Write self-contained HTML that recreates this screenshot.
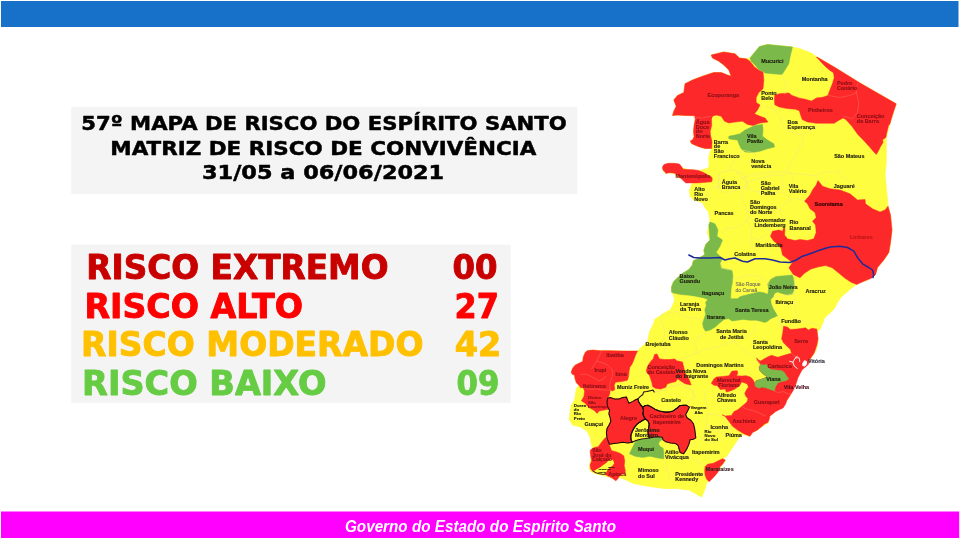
<!DOCTYPE html>
<html lang="pt"><head><meta charset="utf-8"><title>57º Mapa de Risco do Espírito Santo</title>
<style>html,body{margin:0;padding:0;background:#fff;overflow:hidden}svg{display:block}</style></head>
<body><svg width="960" height="540" viewBox="0 0 960 540">
<rect x="0" y="0" width="960" height="540" fill="#ffffff"/>
<rect x="1" y="1" width="957.5" height="26" fill="#1871c8"/>
<rect x="1" y="511.5" width="958.2" height="26.5" fill="#ff00ff"/>
<rect x="71.3" y="106.8" width="506" height="87.2" fill="#f4f4f4"/>
<rect x="71.3" y="244.7" width="439.4" height="158.2" fill="#f4f4f4"/>
<text x="81.3" y="130.0" font-family='"DejaVu Sans", "Liberation Sans", sans-serif' font-size="20.2" font-weight="bold" font-style="normal" fill="#000" stroke="#000" stroke-width="0.5" stroke-linejoin="round" textLength="485.5" lengthAdjust="spacingAndGlyphs">57º MAPA DE RISCO DO ESPÍRITO SANTO</text>
<text x="110.3" y="154.6" font-family='"DejaVu Sans", "Liberation Sans", sans-serif' font-size="20.2" font-weight="bold" font-style="normal" fill="#000" stroke="#000" stroke-width="0.5" stroke-linejoin="round" textLength="426.0" lengthAdjust="spacingAndGlyphs">MATRIZ DE RISCO DE CONVIVÊNCIA</text>
<text x="202.0" y="179.2" font-family='"DejaVu Sans", "Liberation Sans", sans-serif' font-size="20.2" font-weight="bold" font-style="normal" fill="#000" stroke="#000" stroke-width="0.5" stroke-linejoin="round" textLength="242.2" lengthAdjust="spacingAndGlyphs">31/05 a 06/06/2021</text>
<text x="86.3" y="279.4" font-family='"DejaVu Sans", "Liberation Sans", sans-serif' font-size="32.8" font-weight="bold" font-style="normal" fill="#c80000" stroke="#c80000" stroke-width="0.9" stroke-linejoin="round" textLength="302.2" lengthAdjust="spacingAndGlyphs">RISCO EXTREMO</text>
<text x="452.5" y="279.4" font-family='"DejaVu Sans", "Liberation Sans", sans-serif' font-size="32.8" font-weight="bold" font-style="normal" fill="#c80000" stroke="#c80000" stroke-width="0.9" stroke-linejoin="round" textLength="45.0" lengthAdjust="spacingAndGlyphs">00</text>
<text x="84.4" y="317.9" font-family='"DejaVu Sans", "Liberation Sans", sans-serif' font-size="32.8" font-weight="bold" font-style="normal" fill="#ff0000" stroke="#ff0000" stroke-width="0.9" stroke-linejoin="round" textLength="218.6" lengthAdjust="spacingAndGlyphs">RISCO ALTO</text>
<text x="454.5" y="317.9" font-family='"DejaVu Sans", "Liberation Sans", sans-serif' font-size="32.8" font-weight="bold" font-style="normal" fill="#ff0000" stroke="#ff0000" stroke-width="0.9" stroke-linejoin="round" textLength="44.4" lengthAdjust="spacingAndGlyphs">27</text>
<text x="81.1" y="355.8" font-family='"DejaVu Sans", "Liberation Sans", sans-serif' font-size="32.8" font-weight="bold" font-style="normal" fill="#ffc000" stroke="#ffc000" stroke-width="0.9" stroke-linejoin="round" textLength="342.4" lengthAdjust="spacingAndGlyphs">RISCO MODERADO</text>
<text x="454.7" y="355.8" font-family='"DejaVu Sans", "Liberation Sans", sans-serif' font-size="32.8" font-weight="bold" font-style="normal" fill="#ffc000" stroke="#ffc000" stroke-width="0.9" stroke-linejoin="round" textLength="46.6" lengthAdjust="spacingAndGlyphs">42</text>
<text x="82.1" y="395.2" font-family='"DejaVu Sans", "Liberation Sans", sans-serif' font-size="32.8" font-weight="bold" font-style="normal" fill="#66cc44" stroke="#66cc44" stroke-width="0.9" stroke-linejoin="round" textLength="244.4" lengthAdjust="spacingAndGlyphs">RISCO BAIXO</text>
<text x="456.5" y="395.2" font-family='"DejaVu Sans", "Liberation Sans", sans-serif' font-size="32.8" font-weight="bold" font-style="normal" fill="#66cc44" stroke="#66cc44" stroke-width="0.9" stroke-linejoin="round" textLength="42.8" lengthAdjust="spacingAndGlyphs">09</text>
<text x="345.0" y="531.5" font-family='"Liberation Sans", sans-serif' font-size="16.5" font-weight="bold" font-style="italic" fill="#ffffff" textLength="271.0" lengthAdjust="spacingAndGlyphs">Governo do Estado do Espírito Santo</text>
<g id="mapa">
<polygon points="711.2,55.0 723.8,52.0 735.0,53.8 739.5,58.0 746.2,58.8 750.0,58.0 754.5,52.5 759.5,46.5 767.5,44.5 777.5,45.5 792.5,47.0 800.0,48.8 810.0,52.5 817.0,57.0 835.0,67.5 860.0,83.0 880.0,94.5 896.2,103.8 892.5,115.0 889.5,125.0 886.2,137.5 886.2,150.0 886.2,162.5 885.0,175.0 886.2,187.5 887.5,200.0 888.0,206.2 890.5,215.0 892.0,230.0 890.5,242.5 888.8,252.5 883.8,260.0 877.5,267.5 875.0,275.0 867.5,280.0 860.0,282.5 855.6,285.1 850.5,288.9 845.5,293.3 840.5,297.7 837.3,302.7 834.8,307.8 831.6,311.6 827.9,314.7 824.1,318.5 823.5,321.6 821.6,325.4 820.3,329.2 817.8,330.5 817.5,335.0 818.0,342.5 816.2,350.0 812.5,356.2 808.8,361.2 806.2,365.0 802.5,368.8 800.0,372.5 795.0,380.0 791.2,387.5 792.5,390.0 788.8,397.5 783.8,405.0 777.5,410.0 771.2,415.0 767.5,417.5 768.8,422.5 762.5,426.2 757.5,430.0 752.5,432.5 750.0,436.2 743.3,434.4 739.2,437.5 735.0,443.8 730.8,450.0 726.7,456.2 722.5,459.0 725.6,460.4 722.5,464.6 718.3,470.8 713.1,477.1 710.0,480.2 706.9,482.3 704.8,489.6 701.7,496.9 697.5,494.8 689.2,490.0 676.7,488.5 664.2,488.5 653.8,487.1 643.3,485.4 632.9,483.3 626.7,480.2 618.3,477.1 615.2,480.2 610.0,477.1 604.8,476.0 601.7,475.0 596.5,474.0 591.2,471.9 589.2,468.8 590.2,462.5 591.2,457.3 590.2,452.1 592.3,447.9 591.2,443.8 590.2,437.5 587.1,431.2 580.8,427.1 572.5,425.0 569.4,418.8 570.4,410.4 571.5,404.2 573.2,403.0 575.1,397.9 575.7,392.9 576.4,389.1 578.9,385.3 576.4,382.8 575.1,379.0 574.5,375.3 572.0,374.0 571.3,372.1 572.6,368.3 575.1,365.2 578.9,363.3 582.7,361.4 583.3,357.0 585.2,352.6 587.1,350.7 592.7,350.1 600.3,350.7 610.4,350.7 623.0,351.1 637.5,351.1 640.2,348.3 643.3,345.2 647.5,342.1 648.5,336.9 649.6,331.7 651.7,327.5 653.8,323.3 654.8,319.2 660.0,316.0 664.2,312.9 670.4,309.8 672.5,305.6 674.6,300.4 673.5,295.2 671.5,292.1 671.5,286.9 673.5,281.7 677.7,277.5 682.9,273.3 689.2,269.2 692.3,265.0 693.3,260.8 699.6,257.7 704.8,254.6 703.8,250.4 705.8,244.2 710.0,240.0 707.5,232.5 708.8,225.0 710.0,221.2 708.8,212.5 705.0,207.5 702.5,202.5 693.8,200.0 690.0,196.2 689.5,190.0 692.5,182.5 685.0,179.5 677.5,177.5 675.0,173.8 670.0,173.0 664.5,172.5 662.5,169.5 663.0,166.2 667.5,163.8 675.0,163.8 680.0,165.5 682.5,168.0 690.0,170.0 700.0,170.5 708.6,168.0 709.2,163.0 708.6,157.9 709.8,152.9 711.7,148.5 705.4,148.5 700.4,147.2 695.3,145.3 691.6,143.5 690.3,140.9 692.8,139.7 694.1,136.5 693.5,131.5 694.1,125.2 695.3,118.9 694.7,115.7 685.0,115.5 677.5,115.0 672.5,115.5 673.8,111.2 676.2,106.2 673.8,100.0 677.5,95.5 683.8,92.5 685.0,83.8 692.5,80.0 702.5,76.2 713.8,72.5 721.2,72.5 727.5,75.0 731.2,76.2 728.8,70.0 723.8,65.0 718.8,61.2 712.5,58.0" fill="#fffd40" stroke="#fffd40" stroke-width="0.8" stroke-linejoin="round" />
<polygon points="817.0,57.0 835.0,67.5 860.0,83.0 880.0,94.5 896.2,103.8 892.5,115.0 889.5,125.0 888.9,124.1 886.7,133.0 885.9,137.4 882.7,139.6 883.0,142.6 880.7,146.3 878.5,150.7 876.3,154.4 874.1,152.2 869.6,147.0 863.7,140.4 857.8,134.4 851.9,126.3 845.9,119.6 843.0,118.1 838.5,120.4 834.1,123.3 825.2,123.3 816.3,123.3 807.4,121.9 802.2,119.6 800.7,115.2 799.3,110.7 795.6,109.3 786.7,108.5 779.3,107.0 774.8,104.8 774.4,99.6 774.8,95.2 779.3,93.7 788.8,92.9 792.0,95.4 798.9,97.9 805.2,99.2 811.5,101.1 816.5,97.9 822.8,97.3 827.9,95.4 829.7,90.4 832.3,84.1 834.2,77.8 833.5,72.7 829.7,70.2 825.3,66.4 821.6,62.7 818.4,58.9 816.5,57.6" fill="#fd2829" stroke="#fd2829" stroke-width="0.5" stroke-linejoin="round" />
<polygon points="711.2,55.0 723.8,52.0 735.0,53.8 739.5,58.0 746.2,58.8 750.0,61.2 754.5,67.0 758.8,70.0 763.0,72.0 763.8,80.0 763.0,88.8 758.8,92.5 756.2,97.5 756.2,102.5 760.0,105.0 757.5,110.0 754.5,113.8 760.0,116.2 765.0,118.0 768.0,122.0 760.0,123.0 753.0,125.5 747.5,124.5 742.5,121.2 735.0,122.0 728.8,123.0 724.5,121.2 721.2,116.2 716.2,115.0 712.5,116.2 711.5,118.9 711.7,125.2 710.2,131.5 710.5,135.3 712.0,141.6 711.7,148.5 705.4,148.5 700.4,147.2 695.3,145.3 691.6,143.5 690.3,140.9 692.8,139.7 694.1,136.5 693.5,131.5 694.1,125.2 695.3,118.9 694.7,115.7 685.0,115.5 677.5,115.0 672.5,115.5 673.8,111.2 676.2,106.2 673.8,100.0 677.5,95.5 683.8,92.5 685.0,83.8 692.5,80.0 702.5,76.2 713.8,72.5 721.2,72.5 727.5,75.0 731.2,76.2 728.8,70.0 723.8,65.0 718.8,61.2 712.5,58.0" fill="#fd2829" stroke="#fd2829" stroke-width="0.5" stroke-linejoin="round" />
<polygon points="662.9,165.8 664.6,164.2 668.3,163.3 673.3,163.3 678.3,163.8 680.0,164.6 681.7,167.1 683.3,169.2 687.5,169.6 693.3,169.8 698.3,170.4 701.7,171.7 705.0,173.3 708.3,175.4 711.7,177.1 712.3,179.2 711.7,181.7 708.3,182.1 703.3,182.5 696.7,182.9 690.0,182.9 685.8,182.9 683.3,180.8 680.8,178.3 678.3,175.8 675.8,173.8 673.3,172.9 670.0,172.7 667.5,172.9 666.2,173.8 665.0,172.1 663.3,170.4 662.5,167.9" fill="#fd2829" stroke="#fd2829" stroke-width="0.5" stroke-linejoin="round" />
<polygon points="818.0,180.5 822.5,186.2 830.0,188.8 840.0,190.0 850.0,193.8 857.5,200.0 865.0,199.5 865.5,203.8 872.5,208.8 880.0,212.0 885.0,210.0 888.0,206.2 890.5,215.0 892.0,230.0 890.5,242.5 888.8,252.5 883.8,260.0 877.5,267.5 875.6,274.4 872.2,277.8 864.4,281.1 856.7,284.4 851.1,282.2 844.4,277.8 837.8,272.2 832.2,267.8 825.6,265.6 818.9,266.7 811.1,268.9 804.4,273.3 800.0,277.8 793.3,274.4 788.9,267.8 792.5,262.5 787.5,258.8 782.5,255.0 781.2,248.8 777.5,243.8 773.8,241.2 770.5,236.2 772.5,231.2 778.8,230.0 782.5,231.2 783.8,227.5 785.0,228.8 784.5,235.0 787.5,238.8 795.0,240.5 800.0,239.5 807.5,240.5 813.8,238.8 816.2,232.5 815.5,225.0 812.5,221.2 816.2,217.5 815.0,212.5 810.0,208.8 807.5,203.8 804.5,201.2 810.0,195.0 812.5,190.0 816.2,185.0" fill="#fd2829" stroke="#fd2829" stroke-width="0.5" stroke-linejoin="round" />
<polygon points="783.5,326.3 787.2,326.9 790.4,329.4 796.7,329.1 803.0,328.2 805.5,327.8 808.6,330.1 811.8,328.2 816.8,329.1 818.1,338.9 816.8,345.2 814.3,352.7 811.8,356.5 809.3,360.3 808.6,364.1 806.1,366.6 803.6,368.5 801.7,370.4 799.8,374.2 797.9,377.9 796.7,381.7 795.4,385.5 794.2,388.0 793.8,389.6 791.3,393.4 789.4,396.5 786.9,400.3 785.6,404.1 783.1,407.9 779.3,409.7 775.6,411.6 772.4,414.2 769.9,416.0 769.3,419.2 768.0,422.3 764.2,424.2 761.7,426.8 759.8,428.0 757.5,430.0 752.5,432.5 750.0,436.2 743.8,433.8 737.5,430.0 732.5,426.2 728.8,421.2 725.0,416.2 722.0,414.8 725.2,416.0 731.5,415.4 734.0,411.6 737.8,409.7 741.6,406.6 744.7,404.1 747.2,401.6 747.9,398.4 746.0,396.5 744.7,393.4 746.6,389.6 748.5,387.1 747.2,383.9 744.1,382.7 741.6,382.0 740.3,384.6 737.8,387.1 734.0,389.6 730.2,390.9 726.4,392.1 725.2,389.0 720.2,389.6 717.6,385.8 713.9,385.2 711.3,383.3 713.9,378.9 716.4,377.0 722.7,376.4 729.0,375.7 730.9,372.6 732.1,371.1 737.2,370.7 737.8,373.2 736.5,375.7 741.6,376.1 746.0,375.7 750.4,377.0 752.9,379.5 754.8,383.3 756.0,380.8 760.5,379.5 764.2,378.3 766.8,376.4 763.0,373.9 759.8,370.7 759.2,367.6 760.5,364.4 758.9,362.8 757.0,360.3 756.4,357.8 758.9,360.3 760.8,360.9 763.9,359.0 767.1,357.2 771.5,355.3 777.8,357.2 784.1,355.3 790.4,353.4 791.6,353.4 790.4,349.6 787.2,346.4 783.5,342.7 781.6,338.9 782.8,332.6" fill="#fd2829" stroke="#fd2829" stroke-width="0.5" stroke-linejoin="round" />
<polygon points="646.3,370.2 648.2,365.2 650.7,361.4 653.2,358.9 654.5,354.5 657.0,353.9 658.2,356.4 659.5,358.9 664.5,359.5 669.6,359.5 674.6,358.9 677.1,360.8 682.5,362.0 683.8,367.5 685.0,372.5 688.8,378.8 691.2,385.0 685.0,383.8 677.5,378.8 675.9,381.6 670.8,382.8 667.1,384.1 665.8,387.2 660.8,389.1 655.7,388.5 652.6,386.6 651.9,382.8 650.7,379.0 649.4,375.3 646.9,372.7" fill="#fd2829" stroke="#fd2829" stroke-width="0.5" stroke-linejoin="round" />
<polygon points="585.2,352.6 587.1,350.7 592.7,350.1 600.3,350.7 610.4,350.7 623.0,351.1 637.5,351.1 635.6,355.1 633.7,360.2 631.8,364.6 629.9,367.1 629.0,371.5 628.6,376.5 627.4,380.3 621.7,381.6 615.4,382.2 614.2,385.3 614.8,389.7 612.3,391.0 610.4,389.7 609.7,394.2 609.7,394.1 607.9,398.3 607.6,402.0 608.1,406.4 609.1,409.2 604.1,410.0 599.0,411.1 597.2,413.4 594.0,410.2 590.2,408.3 587.1,405.8 585.2,403.3 581.4,400.8 583.9,396.4 584.6,391.3 583.3,387.6 580.8,387.9 578.9,385.3 576.4,382.8 575.1,379.0 574.5,375.3 572.0,374.0 571.3,372.1 572.6,368.3 575.1,365.2 578.9,363.3 582.7,361.4 583.3,357.0" fill="#fd2829" stroke="#fd2829" stroke-width="0.5" stroke-linejoin="round" />
<polygon points="607.6,398.3 610.2,397.6 614.6,398.9 619.0,398.9 622.7,397.6 626.5,397.0 627.8,400.8 629.0,403.3 632.8,401.4 636.0,399.5 637.9,398.9 638.5,401.4 640.4,404.6 642.3,407.1 643.5,410.2 642.9,414.0 644.2,417.2 645.4,419.0 642.9,420.3 639.7,422.2 636.6,424.7 634.1,427.9 632.2,431.6 630.9,435.4 630.9,439.2 632.2,442.3 627.8,443.0 622.7,442.3 618.3,443.0 613.9,443.6 609.5,444.2 608.3,441.7 607.0,437.9 606.4,432.9 607.0,428.5 608.9,425.3 610.8,421.6 610.2,417.8 608.9,414.0 609.5,410.2 607.6,406.4 607.0,402.0" fill="#fd2829" stroke="#fd2829" stroke-width="0.5" stroke-linejoin="round" />
<polygon points="643.5,410.2 642.9,407.1 644.8,405.8 647.9,405.2 651.7,407.1 655.5,409.6 659.3,410.9 664.3,412.1 669.3,412.1 673.1,410.9 676.9,408.3 679.4,405.8 683.2,405.2 686.3,405.2 689.5,407.1 687.6,410.9 685.7,414.6 687.0,417.8 690.8,420.3 693.3,423.5 694.5,427.9 695.2,432.9 695.8,437.9 693.3,439.2 690.1,439.8 688.9,444.2 687.0,448.6 683.7,453.7 680.1,452.5 678.8,448.0 678.2,445.5 675.6,443.6 670.6,443.0 665.6,441.7 663.0,439.8 662.4,437.3 658.0,436.7 653.0,437.3 649.2,437.9 648.6,435.4 647.9,431.6 648.6,428.5 649.2,424.1 647.9,420.9 645.4,419.0 644.2,417.2 642.9,414.0" fill="#fd2829" stroke="#fd2829" stroke-width="0.5" stroke-linejoin="round" />
<polygon points="705.0,466.7 707.5,464.2 713.3,463.3 718.3,460.8 722.5,458.7 725.3,460.0 722.5,464.2 719.2,467.5 718.3,471.7 715.0,475.8 711.7,479.2 709.2,481.7 706.7,479.2 705.0,475.0 704.7,470.8" fill="#fd2829" stroke="#fd2829" stroke-width="0.5" stroke-linejoin="round" />
<polygon points="590.3,450.0 594.2,447.5 598.3,446.7 600.8,443.3 603.3,440.0 606.0,437.3 607.7,440.8 610.0,446.7 611.7,450.8 615.8,451.7 620.0,453.3 623.7,455.8 624.7,460.8 624.2,465.8 625.3,470.8 624.7,473.3 620.0,475.0 617.5,479.2 615.8,480.8 612.5,478.3 607.5,475.8 605.0,474.2 600.0,473.3 595.8,472.5 593.3,470.8 590.8,469.2 590.0,465.0 591.7,460.8 590.8,456.7 590.3,453.3" fill="#fd2829" stroke="#fd2829" stroke-width="0.5" stroke-linejoin="round" />
<polygon points="750.0,58.0 754.5,52.5 759.5,46.5 767.5,44.5 777.5,45.5 792.5,47.0 790.5,55.0 788.8,63.8 785.0,70.0 782.0,74.5 772.5,73.8 765.0,73.0 762.5,71.2 758.8,69.5 755.0,65.0 751.2,61.2" fill="#7bb94a" stroke="#7bb94a" stroke-width="0.5" stroke-linejoin="round" />
<polygon points="728.8,136.2 735.0,135.0 740.0,133.8 745.0,130.0 755.0,125.5 762.5,124.5 763.0,130.0 762.5,136.2 767.5,140.0 773.8,143.8 774.5,147.0 767.5,148.8 760.0,151.2 752.5,152.5 745.0,152.0 741.2,148.8 738.8,143.8 737.5,140.0 732.5,139.5 728.8,138.8" fill="#7bb94a" stroke="#7bb94a" stroke-width="0.5" stroke-linejoin="round" />
<polygon points="708.8,225.0 710.0,222.0 715.0,223.8 718.0,230.0 717.0,236.2 722.5,240.0 720.0,246.2 716.2,252.5 720.0,256.2 722.5,258.0 720.4,262.9 721.5,268.1 726.7,269.2 731.9,270.2 732.9,275.4 732.5,281.7 731.2,287.9 730.8,294.2 730.7,298.7 737.4,298.7 740.4,296.5 746.3,295.0 752.2,293.5 759.6,292.0 764.1,292.8 767.8,294.3 768.5,289.1 767.8,283.9 770.7,279.4 775.9,276.5 784.8,275.7 792.2,275.0 793.7,278.7 794.4,284.6 793.7,290.6 792.2,294.3 787.8,295.0 781.9,293.5 777.4,292.0 774.4,293.5 773.0,297.2 770.7,299.4 771.2,303.9 773.0,308.3 775.2,312.0 777.4,315.7 774.4,317.2 770.7,318.7 767.0,321.7 764.1,322.4 759.6,320.9 755.2,320.2 749.3,320.2 743.3,319.4 737.4,320.2 732.2,320.9 728.5,318.7 724.1,319.4 719.6,323.1 715.2,326.9 710.7,329.8 705.6,331.3 703.3,327.6 702.6,323.1 704.1,318.7 705.6,314.3 704.8,309.8 706.3,305.4 705.6,302.4 707.8,299.4 703.8,297.9 695.4,296.2 689.2,295.2 680.8,294.6 673.5,293.1 671.5,292.1 671.5,286.9 673.5,281.7 677.7,277.5 682.9,273.3 689.2,269.2 692.3,265.0 693.3,260.8 699.6,257.7 704.8,254.6 703.8,250.4 705.8,244.2 710.0,240.0" fill="#7bb94a" stroke="#7bb94a" stroke-width="0.5" stroke-linejoin="round" />
<polygon points="760.5,364.4 764.2,365.0 766.8,364.4 768.0,366.9 770.5,369.4 775.6,370.1 781.9,370.7 784.4,372.6 786.3,375.7 788.8,378.9 785.6,380.8 781.9,381.4 778.1,382.7 775.6,386.4 774.3,390.9 770.5,389.6 765.5,387.7 761.7,387.1 759.2,388.3 755.4,386.4 754.8,383.3 756.0,380.8 760.5,379.5 764.2,378.3 766.8,376.4 763.0,373.9 759.8,370.7 759.2,367.6" fill="#7bb94a" stroke="#7bb94a" stroke-width="0.5" stroke-linejoin="round" />
<polygon points="634.1,444.2 636.0,441.1 640.4,439.8 645.4,438.9 649.2,438.2 653.0,437.3 658.0,436.7 662.4,437.3 661.8,439.8 659.3,441.7 658.6,444.2 660.5,446.8 663.0,448.0 663.8,452.5 663.8,458.8 657.5,458.0 650.0,456.2 642.5,457.5 635.0,456.2 629.5,453.8" fill="#7bb94a" stroke="#7bb94a" stroke-width="0.5" stroke-linejoin="round" />
<polygon points="594.2,470.8 596.7,469.2 600.0,467.5 603.3,465.0 605.8,463.3 608.3,460.8 610.8,459.2 613.0,460.0 614.2,463.3 612.5,465.8 610.0,467.5 607.5,470.0 605.8,473.3 603.3,474.2 599.2,473.3 595.8,472.5" fill="#fffd40" stroke="none" stroke-width="0" stroke-linejoin="round" />
<polyline points="782.0,74.5 783.8,80.0 786.2,86.2 785.0,93.8" fill="none" stroke="#f1e97c" stroke-width="0.55" stroke-linejoin="round" stroke-linecap="round" />
<polyline points="765.0,106.7 770.0,107.5 775.0,110.0 777.5,113.3 780.0,116.7 781.7,121.7 783.3,126.7 786.7,130.8 793.3,132.5 800.0,134.2 806.7,132.5 813.3,129.2 820.0,126.7 826.7,124.2" fill="none" stroke="#f1e97c" stroke-width="0.55" stroke-linejoin="round" stroke-linecap="round" />
<polyline points="800.0,134.2 803.3,137.5 801.7,143.3 798.3,150.0 795.0,156.7 791.7,161.7 788.3,166.7 786.7,171.7 790.8,173.3" fill="none" stroke="#f1e97c" stroke-width="0.55" stroke-linejoin="round" stroke-linecap="round" />
<polyline points="741.7,178.3 750.0,175.8 756.7,174.2 763.3,173.3 770.0,172.5 776.7,171.7 786.7,171.7 790.8,173.3 793.3,178.3 792.5,183.3 793.3,190.0" fill="none" stroke="#f1e97c" stroke-width="0.55" stroke-linejoin="round" stroke-linecap="round" />
<polyline points="755.0,153.3 743.3,150.0 740.0,155.0 737.5,158.3 733.3,161.7 730.8,166.7 730.0,170.0 725.0,171.7 720.0,172.5 718.3,176.7 719.2,181.7 718.3,190.0" fill="none" stroke="#f1e97c" stroke-width="0.55" stroke-linejoin="round" stroke-linecap="round" />
<polyline points="730.0,170.0 735.0,170.8 739.2,173.3 741.7,178.3 746.7,181.7 748.3,186.7 746.7,190.0" fill="none" stroke="#f1e97c" stroke-width="0.55" stroke-linejoin="round" stroke-linecap="round" />
<polyline points="790.8,173.3 800.0,174.2 808.3,175.0 815.0,175.8 818.3,180.0" fill="none" stroke="#f1e97c" stroke-width="0.55" stroke-linejoin="round" stroke-linecap="round" />
<polyline points="815.0,175.8 820.0,173.3 826.7,171.7 833.3,172.5 838.3,170.0 840.0,175.0 845.0,178.3 850.0,181.7 855.0,185.0 860.0,188.3" fill="none" stroke="#f1e97c" stroke-width="0.55" stroke-linejoin="round" stroke-linecap="round" />
<polyline points="719.2,174.2 718.3,180.0 719.2,186.7 721.7,191.7 728.3,192.5 735.0,190.8 740.0,188.3 745.8,185.8 746.7,181.7 745.0,176.7 741.7,173.3 736.7,171.7" fill="none" stroke="#f1e97c" stroke-width="0.55" stroke-linejoin="round" stroke-linecap="round" />
<polyline points="746.7,181.7 753.3,180.0 760.0,178.3 766.7,176.7 773.3,175.0 780.0,175.8 786.7,174.2" fill="none" stroke="#f1e97c" stroke-width="0.55" stroke-linejoin="round" stroke-linecap="round" />
<polyline points="781.7,175.8 782.5,181.7 783.3,186.7 781.7,191.7 786.7,195.0 790.0,197.5" fill="none" stroke="#f1e97c" stroke-width="0.55" stroke-linejoin="round" stroke-linecap="round" />
<polyline points="745.8,185.8 743.3,191.7 741.7,196.7 743.3,201.7 745.8,206.7 746.7,211.7 748.3,216.7 746.7,220.0" fill="none" stroke="#f1e97c" stroke-width="0.55" stroke-linejoin="round" stroke-linecap="round" />
<polyline points="745.8,185.8 750.0,190.0 756.7,191.7 765.0,192.5 773.3,193.3 781.7,191.7" fill="none" stroke="#f1e97c" stroke-width="0.55" stroke-linejoin="round" stroke-linecap="round" />
<polyline points="746.7,211.7 755.0,212.5 765.0,211.7 773.3,210.8 780.0,209.2 783.3,205.8 786.7,202.5 790.0,200.0 795.0,198.3 804.2,200.8" fill="none" stroke="#f1e97c" stroke-width="0.55" stroke-linejoin="round" stroke-linecap="round" />
<polyline points="780.0,209.2 781.7,215.0 784.2,220.0 783.3,225.0" fill="none" stroke="#f1e97c" stroke-width="0.55" stroke-linejoin="round" stroke-linecap="round" />
<polyline points="748.3,216.7 753.3,220.0 758.3,223.3 763.3,225.8 770.0,231.7" fill="none" stroke="#f1e97c" stroke-width="0.55" stroke-linejoin="round" stroke-linecap="round" />
<polyline points="746.7,220.0 743.3,223.3 739.2,226.7 735.0,228.3 730.0,227.5 725.0,229.2 722.5,233.3" fill="none" stroke="#f1e97c" stroke-width="0.55" stroke-linejoin="round" stroke-linecap="round" />
<polyline points="746.7,220.0 750.0,225.0 751.7,230.0 750.8,235.0 753.3,238.3 758.3,240.0 763.3,236.7 768.3,234.2" fill="none" stroke="#f1e97c" stroke-width="0.55" stroke-linejoin="round" stroke-linecap="round" />
<polyline points="705.0,205.0 707.5,200.0 706.7,195.0 709.2,190.0 713.3,186.7 719.2,186.7" fill="none" stroke="#f1e97c" stroke-width="0.55" stroke-linejoin="round" stroke-linecap="round" />
<polyline points="751.7,238.3 750.8,243.3 753.3,248.3 758.3,251.7 763.3,253.3" fill="none" stroke="#f1e97c" stroke-width="0.55" stroke-linejoin="round" stroke-linecap="round" />
<polyline points="661.3,315.0 666.7,313.8 672.5,312.0 678.3,311.3 680.0,315.0 686.7,317.5 693.3,318.3 700.0,319.2 703.3,321.7" fill="none" stroke="#f1e97c" stroke-width="0.55" stroke-linejoin="round" stroke-linecap="round" />
<polyline points="661.3,315.0 661.3,320.0 663.3,326.7 665.0,333.3 663.3,340.0 665.0,346.7 664.2,353.3" fill="none" stroke="#f1e97c" stroke-width="0.55" stroke-linejoin="round" stroke-linecap="round" />
<polyline points="706.7,331.7 701.7,335.0 696.7,338.3 695.0,343.3 696.7,348.3 695.8,353.3 690.0,355.8 683.3,358.3 676.7,360.0" fill="none" stroke="#f1e97c" stroke-width="0.55" stroke-linejoin="round" stroke-linecap="round" />
<polyline points="695.8,353.3 703.3,350.0 710.0,348.3 718.3,346.7 726.7,343.3 733.3,341.7 738.3,345.0 743.3,350.0 748.3,353.3 755.0,356.7 756.7,360.0 760.0,363.3" fill="none" stroke="#f1e97c" stroke-width="0.55" stroke-linejoin="round" stroke-linecap="round" />
<polyline points="733.3,341.7 738.3,338.3 746.7,336.7 753.3,331.7 755.0,325.0 756.7,320.0" fill="none" stroke="#f1e97c" stroke-width="0.55" stroke-linejoin="round" stroke-linecap="round" />
<polyline points="778.3,316.7 780.0,323.3 781.7,330.0" fill="none" stroke="#f1e97c" stroke-width="0.55" stroke-linejoin="round" stroke-linecap="round" />
<polyline points="704.2,390.0 705.0,396.7 706.7,403.3 708.3,410.0 706.7,415.0" fill="none" stroke="#f1e97c" stroke-width="0.55" stroke-linejoin="round" stroke-linecap="round" />
<polyline points="708.3,415.0 713.3,414.2 718.3,415.0 723.3,418.3 726.7,423.3 730.0,427.5 733.3,430.0" fill="none" stroke="#f1e97c" stroke-width="0.55" stroke-linejoin="round" stroke-linecap="round" />
<polyline points="708.3,415.0 705.8,420.0 706.7,425.0 704.2,430.0 710.0,429.2 716.7,431.7 722.5,432.5 723.3,438.3 720.0,441.7 713.3,442.5 706.7,441.7 703.3,438.3 704.2,430.0" fill="none" stroke="#f1e97c" stroke-width="0.55" stroke-linejoin="round" stroke-linecap="round" />
<polyline points="722.5,432.5 730.0,427.5" fill="none" stroke="#f1e97c" stroke-width="0.55" stroke-linejoin="round" stroke-linecap="round" />
<polyline points="703.3,438.3 698.3,440.0 695.0,443.3 690.0,446.7" fill="none" stroke="#f1e97c" stroke-width="0.55" stroke-linejoin="round" stroke-linecap="round" />
<polyline points="665.0,456.7 670.0,458.3 678.3,459.2 685.0,458.3 690.0,456.7 695.0,460.0 700.0,463.3 705.0,465.0" fill="none" stroke="#f1e97c" stroke-width="0.55" stroke-linejoin="round" stroke-linecap="round" />
<polyline points="665.0,460.0 666.7,466.7 668.3,473.3 670.0,480.0" fill="none" stroke="#f1e97c" stroke-width="0.55" stroke-linejoin="round" stroke-linecap="round" />
<polyline points="724.6,258.8 720.4,262.9 721.5,268.1 726.7,269.2 731.9,270.2" fill="none" stroke="#f1e97c" stroke-width="0.55" stroke-linejoin="round" stroke-linecap="round" />
<polyline points="732.5,280.0 740.0,277.5 750.0,275.0 760.0,276.2 768.8,283.8" fill="none" stroke="#f1e97c" stroke-width="0.55" stroke-linejoin="round" stroke-linecap="round" />
<polyline points="793.8,278.8 795.0,285.0 794.5,295.0 795.0,305.0 796.2,315.0 800.0,320.0 810.0,322.5 820.0,326.2" fill="none" stroke="#f1e97c" stroke-width="0.55" stroke-linejoin="round" stroke-linecap="round" />
<polyline points="773.8,297.5 782.5,296.2 792.5,293.8" fill="none" stroke="#f1e97c" stroke-width="0.55" stroke-linejoin="round" stroke-linecap="round" />
<polyline points="777.0,316.2 780.0,322.5 782.5,327.5" fill="none" stroke="#f1e97c" stroke-width="0.55" stroke-linejoin="round" stroke-linecap="round" />
<polyline points="601.6,351.3 599.0,356.4 596.5,361.4 594.0,365.2 591.5,369.0" fill="none" stroke="#ff6e60" stroke-width="0.5" stroke-linejoin="round" stroke-linecap="round" />
<polyline points="596.5,361.4 602.8,362.7 607.9,365.2 611.6,369.0 612.9,372.7 612.3,376.5 610.4,381.6 609.7,385.3 610.4,389.7" fill="none" stroke="#ff6e60" stroke-width="0.5" stroke-linejoin="round" stroke-linecap="round" />
<polyline points="580.8,374.6 585.2,374.0 590.2,375.9 594.6,378.4 599.0,380.9 603.5,379.0 605.3,376.5" fill="none" stroke="#ff6e60" stroke-width="0.5" stroke-linejoin="round" stroke-linecap="round" />
<polyline points="583.3,387.6 589.0,389.4 596.5,388.8 602.8,390.1 609.7,390.1" fill="none" stroke="#ff6e60" stroke-width="0.5" stroke-linejoin="round" stroke-linecap="round" />
<polyline points="857.5,83.8 856.2,92.5 858.8,102.5 857.5,112.5 852.5,118.8 843.8,116.2" fill="none" stroke="#ff6e60" stroke-width="0.5" stroke-linejoin="round" stroke-linecap="round" />
<polyline points="828.0,95.5 840.0,97.5 850.0,95.5 857.0,92.5" fill="none" stroke="#ff6e60" stroke-width="0.5" stroke-linejoin="round" stroke-linecap="round" />
<polyline points="774.3,390.9 778.1,392.7 783.1,391.5 788.2,394.0 791.3,393.4" fill="none" stroke="#ff6e60" stroke-width="0.5" stroke-linejoin="round" stroke-linecap="round" />
<polyline points="741.6,406.6 746.6,409.1 752.9,410.4 759.2,412.9 765.5,416.0" fill="none" stroke="#ff6e60" stroke-width="0.5" stroke-linejoin="round" stroke-linecap="round" />
<polyline points="791.6,353.4 794.2,355.9 796.0,356.5" fill="none" stroke="#ff6e60" stroke-width="0.5" stroke-linejoin="round" stroke-linecap="round" />
<polyline points="693.8,117.5 702.5,118.0 711.2,116.2" fill="none" stroke="#ff6e60" stroke-width="0.5" stroke-linejoin="round" stroke-linecap="round" />
<polygon points="637.9,398.9 640.4,396.4 642.9,394.5 643.5,392.0 646.7,391.6 650.5,390.7 653.0,390.1 654.2,392.0 658.0,391.6 661.8,390.7 665.6,390.1 667.5,386.9 670.6,385.7 673.1,386.3 676.9,385.7 680.7,383.8 683.8,385.7 685.7,387.6 689.5,388.2 690.8,390.1 693.3,390.7 692.6,393.2 695.2,395.1 694.5,397.6 691.4,398.9 689.5,400.8 687.0,402.7 686.3,405.2 683.2,405.2 679.4,405.8 676.9,408.3 673.1,410.9 669.3,412.1 664.3,412.1 659.3,410.9 655.5,409.6 651.7,407.1 647.9,405.2 644.8,405.8 642.9,407.1 640.4,404.6 638.5,401.4" fill="#fffd40" stroke="none" stroke-width="0" stroke-linejoin="round" />
<polygon points="645.4,419.0 647.9,420.9 649.2,424.1 648.6,428.5 647.9,431.6 648.6,435.4 649.2,437.9 645.4,438.6 640.4,439.2 636.0,440.5 632.2,442.3 630.9,439.2 630.9,435.4 632.2,431.6 634.1,427.9 636.6,424.7 639.7,422.2 642.9,420.3" fill="#fffd40" stroke="none" stroke-width="0" stroke-linejoin="round" />
<polygon points="637.9,398.9 640.4,396.4 642.9,394.5 643.5,392.0 646.7,391.6 650.5,390.7 653.0,390.1 654.2,392.0 658.0,391.6 661.8,390.7 665.6,390.1 667.5,386.9 670.6,385.7 673.1,386.3 676.9,385.7 680.7,383.8 683.8,385.7 685.7,387.6 689.5,388.2 690.8,390.1 693.3,390.7 692.6,393.2 695.2,395.1 694.5,397.6 691.4,398.9 689.5,400.8 687.0,402.7 686.3,405.2 683.2,405.2 679.4,405.8 676.9,408.3 673.1,410.9 669.3,412.1 664.3,412.1 659.3,410.9 655.5,409.6 651.7,407.1 647.9,405.2 644.8,405.8 642.9,407.1 640.4,404.6 638.5,401.4" fill="none" stroke="#e9df80" stroke-width="0.6" stroke-linejoin="round" />
<polygon points="607.6,398.3 610.2,397.6 614.6,398.9 619.0,398.9 622.7,397.6 626.5,397.0 627.8,400.8 629.0,403.3 632.8,401.4 636.0,399.5 637.9,398.9 638.5,401.4 640.4,404.6 642.3,407.1 643.5,410.2 642.9,414.0 644.2,417.2 645.4,419.0 642.9,420.3 639.7,422.2 636.6,424.7 634.1,427.9 632.2,431.6 630.9,435.4 630.9,439.2 632.2,442.3 627.8,443.0 622.7,442.3 618.3,443.0 613.9,443.6 609.5,444.2 608.3,441.7 607.0,437.9 606.4,432.9 607.0,428.5 608.9,425.3 610.8,421.6 610.2,417.8 608.9,414.0 609.5,410.2 607.6,406.4 607.0,402.0" fill="none" stroke="#1a0a0a" stroke-width="1.05" stroke-linejoin="round" />
<polygon points="643.5,410.2 642.9,407.1 644.8,405.8 647.9,405.2 651.7,407.1 655.5,409.6 659.3,410.9 664.3,412.1 669.3,412.1 673.1,410.9 676.9,408.3 679.4,405.8 683.2,405.2 686.3,405.2 689.5,407.1 687.6,410.9 685.7,414.6 687.0,417.8 690.8,420.3 693.3,423.5 694.5,427.9 695.2,432.9 695.8,437.9 693.3,439.2 690.1,439.8 688.9,444.2 687.0,448.6 683.7,453.7 680.1,452.5 678.8,448.0 678.2,445.5 675.6,443.6 670.6,443.0 665.6,441.7 663.0,439.8 662.4,437.3 658.0,436.7 653.0,437.3 649.2,437.9 648.6,435.4 647.9,431.6 648.6,428.5 649.2,424.1 647.9,420.9 645.4,419.0 644.2,417.2 642.9,414.0" fill="none" stroke="#1a0a0a" stroke-width="1.05" stroke-linejoin="round" />
<polygon points="645.4,419.0 647.9,420.9 649.2,424.1 648.6,428.5 647.9,431.6 648.6,435.4 649.2,437.9 645.4,438.6 640.4,439.2 636.0,440.5 632.2,442.3 630.9,439.2 630.9,435.4 632.2,431.6 634.1,427.9 636.6,424.7 639.7,422.2 642.9,420.3" fill="none" stroke="#1a0a0a" stroke-width="1.05" stroke-linejoin="round" />
<polyline points="686.3,405.2 683.2,405.2 679.4,405.8 676.9,408.3 673.1,410.9 669.3,412.1 664.3,412.1 659.3,410.9 655.5,409.6 651.7,407.1 647.9,405.2 644.8,405.8 642.9,407.1 640.4,404.6 638.5,401.4 637.9,398.9 640.4,396.4 642.9,394.5 643.5,392.0 646.7,391.6 650.5,390.7 653.0,390.1 654.2,392.0" fill="none" stroke="#1a0a0a" stroke-width="1.05" stroke-linejoin="round" stroke-linecap="round" />
<polyline points="592.0,470.5 595.0,472.5 599.2,473.7 603.3,474.5 605.8,473.8" fill="none" stroke="#1a0a0a" stroke-width="0.8" stroke-linejoin="round" stroke-linecap="round" />
<polyline points="789.7,361.3 792.9,362.2 795.4,357.8 797.3,356.3" fill="none" stroke="#ffffff" stroke-width="0.9" stroke-linejoin="round" stroke-linecap="round" />
<polyline points="792.9,362.2 794.2,366.0 797.3,368.5" fill="none" stroke="#ffffff" stroke-width="0.9" stroke-linejoin="round" stroke-linecap="round" />
<polyline points="795.4,357.8 799.2,357.8 799.8,361.6" fill="none" stroke="#ffffff" stroke-width="0.8" stroke-linejoin="round" stroke-linecap="round" />
<polygon points="802.3,363.5 804.2,360.3 806.8,360.9 807.0,364.1 804.9,366.6 802.3,366.0" fill="#ffffff" stroke="none" stroke-width="0" stroke-linejoin="round" />
<polyline points="688.8,255.0 693.8,257.5 700.0,258.0 710.0,258.0 720.0,257.5 725.0,260.0 730.0,258.8 735.0,258.0 742.5,261.2 747.5,262.0 755.0,258.8 765.0,258.8 772.5,260.0 780.0,262.0 790.0,262.5 796.2,260.0 802.5,256.2 810.0,253.8 820.0,250.0 830.0,247.0 840.0,246.2 847.5,247.5 853.8,251.2 857.5,257.5 862.5,263.8 868.8,267.5 872.5,270.0 873.8,275.0 873.0,277.5" fill="none" stroke="#1f2a9c" stroke-width="1.5" stroke-linejoin="round" stroke-linecap="round" />
</g>
<g id="rotulos" font-family='"Liberation Sans", sans-serif'>
<text transform="translate(761.2,62.5) scale(1.14,1)" font-size="4.80" font-weight="bold" fill="#1c1c10" stroke="#1c1c10" stroke-width="0.12">Mucurici</text>
<text transform="translate(801.8,81.0) scale(1.14,1)" font-size="4.80" font-weight="bold" fill="#1c1c10" stroke="#1c1c10" stroke-width="0.12">Montanha</text>
<text transform="translate(837.0,85.0) scale(1.14,1)" font-size="4.80" font-weight="bold" fill="#8c1018" stroke="#8c1018" stroke-width="0.12">Pedro</text>
<text transform="translate(837.0,89.8) scale(1.14,1)" font-size="4.80" font-weight="bold" fill="#8c1018" stroke="#8c1018" stroke-width="0.12">Canário</text>
<text transform="translate(707.5,96.5) scale(1.14,1)" font-size="4.80" font-weight="bold" fill="#8c1018" stroke="#8c1018" stroke-width="0.12">Ecoporanga</text>
<text transform="translate(761.2,95.0) scale(1.14,1)" font-size="4.80" font-weight="bold" fill="#1c1c10" stroke="#1c1c10" stroke-width="0.12">Ponto</text>
<text transform="translate(761.2,100.0) scale(1.14,1)" font-size="4.80" font-weight="bold" fill="#1c1c10" stroke="#1c1c10" stroke-width="0.12">Belo</text>
<text transform="translate(808.0,111.5) scale(1.14,1)" font-size="4.80" font-weight="bold" fill="#8c1018" stroke="#8c1018" stroke-width="0.12">Pinheiros</text>
<text transform="translate(856.8,118.0) scale(1.14,1)" font-size="4.80" font-weight="bold" fill="#8c1018" stroke="#8c1018" stroke-width="0.12">Conceição</text>
<text transform="translate(856.8,123.0) scale(1.14,1)" font-size="4.80" font-weight="bold" fill="#8c1018" stroke="#8c1018" stroke-width="0.12">da Barra</text>
<text transform="translate(787.5,123.8) scale(1.14,1)" font-size="4.80" font-weight="bold" fill="#1c1c10" stroke="#1c1c10" stroke-width="0.12">Boa</text>
<text transform="translate(787.5,128.8) scale(1.14,1)" font-size="4.80" font-weight="bold" fill="#1c1c10" stroke="#1c1c10" stroke-width="0.12">Esperança</text>
<text transform="translate(695.8,123.5) scale(1.14,1)" font-size="4.80" font-weight="bold" fill="#8c1018" stroke="#8c1018" stroke-width="0.12">Água</text>
<text transform="translate(695.8,128.5) scale(1.14,1)" font-size="4.80" font-weight="bold" fill="#8c1018" stroke="#8c1018" stroke-width="0.12">Doce</text>
<text transform="translate(695.8,133.2) scale(1.14,1)" font-size="4.80" font-weight="bold" fill="#8c1018" stroke="#8c1018" stroke-width="0.12">do</text>
<text transform="translate(695.8,138.0) scale(1.14,1)" font-size="4.80" font-weight="bold" fill="#8c1018" stroke="#8c1018" stroke-width="0.12">Norte</text>
<text transform="translate(747.0,138.0) scale(1.14,1)" font-size="4.80" font-weight="bold" fill="#1c1c10" stroke="#1c1c10" stroke-width="0.12">Vila</text>
<text transform="translate(747.0,143.0) scale(1.14,1)" font-size="4.80" font-weight="bold" fill="#1c1c10" stroke="#1c1c10" stroke-width="0.12">Pavão</text>
<text transform="translate(713.8,143.5) scale(1.14,1)" font-size="4.80" font-weight="bold" fill="#1c1c10" stroke="#1c1c10" stroke-width="0.12">Barra</text>
<text transform="translate(713.8,148.0) scale(1.14,1)" font-size="4.80" font-weight="bold" fill="#1c1c10" stroke="#1c1c10" stroke-width="0.12">de</text>
<text transform="translate(713.8,153.0) scale(1.14,1)" font-size="4.80" font-weight="bold" fill="#1c1c10" stroke="#1c1c10" stroke-width="0.12">São</text>
<text transform="translate(713.8,158.0) scale(1.14,1)" font-size="4.80" font-weight="bold" fill="#1c1c10" stroke="#1c1c10" stroke-width="0.12">Francisco</text>
<text transform="translate(834.2,157.5) scale(1.14,1)" font-size="4.80" font-weight="bold" fill="#1c1c10" stroke="#1c1c10" stroke-width="0.12">São Mateus</text>
<text transform="translate(751.2,163.0) scale(1.14,1)" font-size="4.80" font-weight="bold" fill="#1c1c10" stroke="#1c1c10" stroke-width="0.12">Nova</text>
<text transform="translate(751.2,168.0) scale(1.14,1)" font-size="4.80" font-weight="bold" fill="#1c1c10" stroke="#1c1c10" stroke-width="0.12">venécia</text>
<text transform="translate(675.5,178.0) scale(1.14,1)" font-size="4.80" font-weight="bold" fill="#8c1018" stroke="#8c1018" stroke-width="0.12">Mantenópolis</text>
<text transform="translate(721.8,184.2) scale(1.14,1)" font-size="4.80" font-weight="bold" fill="#1c1c10" stroke="#1c1c10" stroke-width="0.12">Águia</text>
<text transform="translate(721.8,189.2) scale(1.14,1)" font-size="4.80" font-weight="bold" fill="#1c1c10" stroke="#1c1c10" stroke-width="0.12">Branca</text>
<text transform="translate(760.8,184.8) scale(1.14,1)" font-size="4.80" font-weight="bold" fill="#1c1c10" stroke="#1c1c10" stroke-width="0.12">São</text>
<text transform="translate(760.8,189.8) scale(1.14,1)" font-size="4.80" font-weight="bold" fill="#1c1c10" stroke="#1c1c10" stroke-width="0.12">Gabriel</text>
<text transform="translate(760.8,194.8) scale(1.14,1)" font-size="4.80" font-weight="bold" fill="#1c1c10" stroke="#1c1c10" stroke-width="0.12">Palha</text>
<text transform="translate(788.8,188.0) scale(1.14,1)" font-size="4.80" font-weight="bold" fill="#1c1c10" stroke="#1c1c10" stroke-width="0.12">Vila</text>
<text transform="translate(788.8,193.0) scale(1.14,1)" font-size="4.80" font-weight="bold" fill="#1c1c10" stroke="#1c1c10" stroke-width="0.12">Valério</text>
<text transform="translate(833.8,187.5) scale(1.14,1)" font-size="4.80" font-weight="bold" fill="#1c1c10" stroke="#1c1c10" stroke-width="0.12">Jaguaré</text>
<text transform="translate(694.2,191.0) scale(1.14,1)" font-size="4.80" font-weight="bold" fill="#1c1c10" stroke="#1c1c10" stroke-width="0.12">Alto</text>
<text transform="translate(694.2,196.0) scale(1.14,1)" font-size="4.80" font-weight="bold" fill="#1c1c10" stroke="#1c1c10" stroke-width="0.12">Rio</text>
<text transform="translate(694.2,201.0) scale(1.14,1)" font-size="4.80" font-weight="bold" fill="#1c1c10" stroke="#1c1c10" stroke-width="0.12">Novo</text>
<text transform="translate(814.5,205.5) scale(1.14,1)" font-size="4.80" font-weight="bold" fill="#200000" stroke="#200000" stroke-width="0.12">Sooretama</text>
<text transform="translate(750.0,203.8) scale(1.14,1)" font-size="4.80" font-weight="bold" fill="#1c1c10" stroke="#1c1c10" stroke-width="0.12">São</text>
<text transform="translate(750.0,208.8) scale(1.14,1)" font-size="4.80" font-weight="bold" fill="#1c1c10" stroke="#1c1c10" stroke-width="0.12">Domingos</text>
<text transform="translate(750.0,213.5) scale(1.14,1)" font-size="4.80" font-weight="bold" fill="#1c1c10" stroke="#1c1c10" stroke-width="0.12">do Norte</text>
<text transform="translate(714.5,214.5) scale(1.14,1)" font-size="4.80" font-weight="bold" fill="#1c1c10" stroke="#1c1c10" stroke-width="0.12">Pancas</text>
<text transform="translate(754.5,221.8) scale(1.14,1)" font-size="4.80" font-weight="bold" fill="#1c1c10" stroke="#1c1c10" stroke-width="0.12">Governador</text>
<text transform="translate(754.5,226.8) scale(1.14,1)" font-size="4.80" font-weight="bold" fill="#1c1c10" stroke="#1c1c10" stroke-width="0.12">Lindemberg</text>
<text transform="translate(789.5,224.2) scale(1.14,1)" font-size="4.80" font-weight="bold" fill="#1c1c10" stroke="#1c1c10" stroke-width="0.12">Rio</text>
<text transform="translate(789.5,230.0) scale(1.14,1)" font-size="4.80" font-weight="bold" fill="#1c1c10" stroke="#1c1c10" stroke-width="0.12">Bananal</text>
<text transform="translate(850.0,239.0) scale(1.14,1)" font-size="4.80" font-weight="bold" fill="#c01818" stroke="#c01818" stroke-width="0.12">Linhares</text>
<text transform="translate(755.5,247.2) scale(1.14,1)" font-size="4.80" font-weight="bold" fill="#1c1c10" stroke="#1c1c10" stroke-width="0.12">Marilândia</text>
<text transform="translate(734.2,255.5) scale(1.14,1)" font-size="4.80" font-weight="bold" fill="#1c1c10" stroke="#1c1c10" stroke-width="0.12">Colatina</text>
<text transform="translate(679.5,278.0) scale(1.14,1)" font-size="4.80" font-weight="bold" fill="#1c1c10" stroke="#1c1c10" stroke-width="0.12">Baixo</text>
<text transform="translate(679.5,283.0) scale(1.14,1)" font-size="4.80" font-weight="bold" fill="#1c1c10" stroke="#1c1c10" stroke-width="0.12">Guandu</text>
<text transform="translate(702.0,294.5) scale(1.14,1)" font-size="4.80" font-weight="bold" fill="#1c1c10" stroke="#1c1c10" stroke-width="0.12">Itaguaçu</text>
<text transform="translate(735.5,286.0) scale(1.14,1)" font-size="4.42" font-weight="normal" fill="#77775a" stroke="#77775a" stroke-width="0.12">São Roque</text>
<text transform="translate(735.5,291.8) scale(1.14,1)" font-size="4.42" font-weight="normal" fill="#77775a" stroke="#77775a" stroke-width="0.12">do Canaã</text>
<text transform="translate(768.8,289.0) scale(1.14,1)" font-size="4.80" font-weight="bold" fill="#1c1c10" stroke="#1c1c10" stroke-width="0.12">João Neiva</text>
<text transform="translate(805.5,292.5) scale(1.14,1)" font-size="4.80" font-weight="bold" fill="#1c1c10" stroke="#1c1c10" stroke-width="0.12">Aracruz</text>
<text transform="translate(680.0,305.5) scale(1.14,1)" font-size="4.80" font-weight="bold" fill="#1c1c10" stroke="#1c1c10" stroke-width="0.12">Laranja</text>
<text transform="translate(680.0,310.5) scale(1.14,1)" font-size="4.80" font-weight="bold" fill="#1c1c10" stroke="#1c1c10" stroke-width="0.12">da Terra</text>
<text transform="translate(775.5,303.5) scale(1.14,1)" font-size="4.80" font-weight="bold" fill="#1c1c10" stroke="#1c1c10" stroke-width="0.12">Ibiraçu</text>
<text transform="translate(735.0,311.8) scale(1.14,1)" font-size="4.80" font-weight="bold" fill="#1c1c10" stroke="#1c1c10" stroke-width="0.12">Santa Teresa</text>
<text transform="translate(707.0,319.2) scale(1.14,1)" font-size="4.80" font-weight="bold" fill="#1c1c10" stroke="#1c1c10" stroke-width="0.12">Itarana</text>
<text transform="translate(781.2,323.0) scale(1.14,1)" font-size="4.80" font-weight="bold" fill="#1c1c10" stroke="#1c1c10" stroke-width="0.12">Fundão</text>
<text transform="translate(716.2,333.0) scale(1.14,1)" font-size="4.80" font-weight="bold" fill="#1c1c10" stroke="#1c1c10" stroke-width="0.12">Santa Maria</text>
<text transform="translate(720.0,338.8) scale(1.14,1)" font-size="4.80" font-weight="bold" fill="#1c1c10" stroke="#1c1c10" stroke-width="0.12">de Jetibá</text>
<text transform="translate(668.8,334.2) scale(1.14,1)" font-size="4.80" font-weight="bold" fill="#1c1c10" stroke="#1c1c10" stroke-width="0.12">Afonso</text>
<text transform="translate(668.8,339.8) scale(1.14,1)" font-size="4.80" font-weight="bold" fill="#1c1c10" stroke="#1c1c10" stroke-width="0.12">Cláudio</text>
<text transform="translate(645.5,345.5) scale(1.14,1)" font-size="4.80" font-weight="bold" fill="#1c1c10" stroke="#1c1c10" stroke-width="0.12">Brejetuba</text>
<text transform="translate(753.0,343.5) scale(1.14,1)" font-size="4.80" font-weight="bold" fill="#1c1c10" stroke="#1c1c10" stroke-width="0.12">Santa</text>
<text transform="translate(753.0,348.8) scale(1.14,1)" font-size="4.80" font-weight="bold" fill="#1c1c10" stroke="#1c1c10" stroke-width="0.12">Leopoldina</text>
<text transform="translate(794.2,342.5) scale(1.14,1)" font-size="4.80" font-weight="bold" fill="#8c1018" stroke="#8c1018" stroke-width="0.12">Serra</text>
<text transform="translate(808.0,362.5) scale(1.14,1)" font-size="4.80" font-weight="bold" fill="#303040" stroke="#303040" stroke-width="0.12">Vitória</text>
<text transform="translate(696.2,366.8) scale(1.14,1)" font-size="4.80" font-weight="bold" fill="#1c1c10" stroke="#1c1c10" stroke-width="0.12">Domingos Martins</text>
<text transform="translate(767.5,368.0) scale(1.14,1)" font-size="4.80" font-weight="bold" fill="#8c1018" stroke="#8c1018" stroke-width="0.12">Cariacica</text>
<text transform="translate(647.5,369.2) scale(1.14,1)" font-size="4.80" font-weight="bold" fill="#8c1018" stroke="#8c1018" stroke-width="0.12">Conceição</text>
<text transform="translate(647.5,374.2) scale(1.14,1)" font-size="4.80" font-weight="bold" fill="#8c1018" stroke="#8c1018" stroke-width="0.12">do Castelo</text>
<text transform="translate(675.5,372.5) scale(1.14,1)" font-size="4.80" font-weight="bold" fill="#1c1c10" stroke="#1c1c10" stroke-width="0.12">Venda Nova</text>
<text transform="translate(675.5,377.5) scale(1.14,1)" font-size="4.80" font-weight="bold" fill="#1c1c10" stroke="#1c1c10" stroke-width="0.12">do Imigrante</text>
<text transform="translate(766.2,380.5) scale(1.14,1)" font-size="4.80" font-weight="bold" fill="#1c1c10" stroke="#1c1c10" stroke-width="0.12">Viana</text>
<text transform="translate(717.0,381.8) scale(1.14,1)" font-size="4.80" font-weight="bold" fill="#8c1018" stroke="#8c1018" stroke-width="0.12">Marechal</text>
<text transform="translate(718.2,386.8) scale(1.14,1)" font-size="4.80" font-weight="bold" fill="#8c1018" stroke="#8c1018" stroke-width="0.12">Floriano</text>
<text transform="translate(783.8,388.5) scale(1.14,1)" font-size="4.80" font-weight="bold" fill="#501020" stroke="#501020" stroke-width="0.12">Vila Velha</text>
<text transform="translate(717.0,396.8) scale(1.14,1)" font-size="4.80" font-weight="bold" fill="#1c1c10" stroke="#1c1c10" stroke-width="0.12">Alfredo</text>
<text transform="translate(717.0,402.2) scale(1.14,1)" font-size="4.80" font-weight="bold" fill="#1c1c10" stroke="#1c1c10" stroke-width="0.12">Chaves</text>
<text transform="translate(753.8,403.5) scale(1.14,1)" font-size="4.80" font-weight="bold" fill="#8c1018" stroke="#8c1018" stroke-width="0.12">Guarapari</text>
<text transform="translate(606.2,356.8) scale(1.14,1)" font-size="4.80" font-weight="bold" fill="#8c1018" stroke="#8c1018" stroke-width="0.12">Ibatiba</text>
<text transform="translate(594.5,371.8) scale(1.14,1)" font-size="4.80" font-weight="bold" fill="#8c1018" stroke="#8c1018" stroke-width="0.12">Irupi</text>
<text transform="translate(615.5,376.2) scale(1.14,1)" font-size="4.80" font-weight="bold" fill="#8c1018" stroke="#8c1018" stroke-width="0.12">Iúna</text>
<text transform="translate(583.0,388.0) scale(1.14,1)" font-size="4.80" font-weight="bold" fill="#8c1018" stroke="#8c1018" stroke-width="0.12">Ibitirama</text>
<text transform="translate(588.0,399.2) scale(1.14,1)" font-size="3.84" font-weight="bold" fill="#8c1018" stroke="#8c1018" stroke-width="0.12">Divino</text>
<text transform="translate(588.0,403.8) scale(1.14,1)" font-size="3.84" font-weight="bold" fill="#8c1018" stroke="#8c1018" stroke-width="0.12">São</text>
<text transform="translate(588.0,408.0) scale(1.14,1)" font-size="3.84" font-weight="bold" fill="#8c1018" stroke="#8c1018" stroke-width="0.12">Lourenço</text>
<text transform="translate(617.0,388.5) scale(1.14,1)" font-size="4.80" font-weight="bold" fill="#1c1c10" stroke="#1c1c10" stroke-width="0.12">Muniz Freire</text>
<text transform="translate(573.8,406.8) scale(1.14,1)" font-size="3.84" font-weight="bold" fill="#1c1c10" stroke="#1c1c10" stroke-width="0.12">Dores</text>
<text transform="translate(573.8,411.0) scale(1.14,1)" font-size="3.84" font-weight="bold" fill="#1c1c10" stroke="#1c1c10" stroke-width="0.12">do</text>
<text transform="translate(573.8,415.2) scale(1.14,1)" font-size="3.84" font-weight="bold" fill="#1c1c10" stroke="#1c1c10" stroke-width="0.12">Rio</text>
<text transform="translate(573.8,420.0) scale(1.14,1)" font-size="3.84" font-weight="bold" fill="#1c1c10" stroke="#1c1c10" stroke-width="0.12">Preto</text>
<text transform="translate(584.5,426.2) scale(1.14,1)" font-size="4.80" font-weight="bold" fill="#1c1c10" stroke="#1c1c10" stroke-width="0.12">Guaçuí</text>
<text transform="translate(620.0,419.8) scale(1.14,1)" font-size="4.80" font-weight="bold" fill="#8c1018" stroke="#8c1018" stroke-width="0.12">Alegre</text>
<text transform="translate(661.2,402.2) scale(1.14,1)" font-size="4.80" font-weight="bold" fill="#1c1c10" stroke="#1c1c10" stroke-width="0.12">Castelo</text>
<text transform="translate(690.5,409.2) scale(1.14,1)" font-size="3.84" font-weight="bold" fill="#1c1c10" stroke="#1c1c10" stroke-width="0.12">Vargem</text>
<text transform="translate(694.5,413.8) scale(1.14,1)" font-size="3.84" font-weight="bold" fill="#1c1c10" stroke="#1c1c10" stroke-width="0.12">Alta</text>
<text transform="translate(649.5,418.0) scale(1.14,1)" font-size="4.80" font-weight="bold" fill="#8c1018" stroke="#8c1018" stroke-width="0.12">Cachoeiro de</text>
<text transform="translate(653.0,423.5) scale(1.14,1)" font-size="4.80" font-weight="bold" fill="#8c1018" stroke="#8c1018" stroke-width="0.12">Itapemirim</text>
<text transform="translate(635.0,431.8) scale(1.14,1)" font-size="4.80" font-weight="bold" fill="#1c1c10" stroke="#1c1c10" stroke-width="0.12">Jerônimo</text>
<text transform="translate(635.0,436.8) scale(1.14,1)" font-size="4.80" font-weight="bold" fill="#1c1c10" stroke="#1c1c10" stroke-width="0.12">Monteiro</text>
<text transform="translate(638.0,450.5) scale(1.14,1)" font-size="4.80" font-weight="bold" fill="#1c1c10" stroke="#1c1c10" stroke-width="0.12">Muqui</text>
<text transform="translate(665.0,454.2) scale(1.14,1)" font-size="4.80" font-weight="bold" fill="#1c1c10" stroke="#1c1c10" stroke-width="0.12">Atílio</text>
<text transform="translate(665.0,459.2) scale(1.14,1)" font-size="4.80" font-weight="bold" fill="#1c1c10" stroke="#1c1c10" stroke-width="0.12">Vivácqua</text>
<text transform="translate(692.0,453.5) scale(1.14,1)" font-size="4.80" font-weight="bold" fill="#1c1c10" stroke="#1c1c10" stroke-width="0.12">Itapemirim</text>
<text transform="translate(710.5,428.5) scale(1.14,1)" font-size="4.80" font-weight="bold" fill="#1c1c10" stroke="#1c1c10" stroke-width="0.12">Iconha</text>
<text transform="translate(704.5,433.0) scale(1.14,1)" font-size="3.84" font-weight="bold" fill="#1c1c10" stroke="#1c1c10" stroke-width="0.12">Rio</text>
<text transform="translate(704.5,437.2) scale(1.14,1)" font-size="3.84" font-weight="bold" fill="#1c1c10" stroke="#1c1c10" stroke-width="0.12">Novo</text>
<text transform="translate(704.5,441.2) scale(1.14,1)" font-size="3.84" font-weight="bold" fill="#1c1c10" stroke="#1c1c10" stroke-width="0.12">do Sul</text>
<text transform="translate(725.5,436.8) scale(1.14,1)" font-size="4.80" font-weight="bold" fill="#1c1c10" stroke="#1c1c10" stroke-width="0.12">Piúma</text>
<text transform="translate(732.5,422.5) scale(1.14,1)" font-size="4.80" font-weight="bold" fill="#8c1018" stroke="#8c1018" stroke-width="0.12">Anchieta</text>
<text transform="translate(592.3,452.2) scale(1.14,1)" font-size="4.42" font-weight="bold" fill="#8c1018" stroke="#8c1018" stroke-width="0.12">São</text>
<text transform="translate(592.3,456.8) scale(1.14,1)" font-size="4.42" font-weight="bold" fill="#8c1018" stroke="#8c1018" stroke-width="0.12">José do</text>
<text transform="translate(592.3,461.3) scale(1.14,1)" font-size="4.42" font-weight="bold" fill="#8c1018" stroke="#8c1018" stroke-width="0.12">Calçado</text>
<text transform="translate(608.3,467.6) scale(1.14,1)" font-size="2.50" font-weight="bold" fill="#1c1c10" stroke="#1c1c10" stroke-width="0.12">Bom</text>
<text transform="translate(598.5,470.1) scale(1.14,1)" font-size="2.50" font-weight="bold" fill="#1c1c10" stroke="#1c1c10" stroke-width="0.12">Jesus do</text>
<text transform="translate(598.5,472.6) scale(1.14,1)" font-size="2.50" font-weight="bold" fill="#1c1c10" stroke="#1c1c10" stroke-width="0.12">Norte</text>
<text transform="translate(608.3,475.5) scale(1.14,1)" font-size="4.80" font-weight="bold" fill="#8c1018" stroke="#8c1018" stroke-width="0.12">Apiacá</text>
<text transform="translate(638.1,472.4) scale(1.14,1)" font-size="4.80" font-weight="bold" fill="#1c1c10" stroke="#1c1c10" stroke-width="0.12">Mimoso</text>
<text transform="translate(638.1,478.0) scale(1.14,1)" font-size="4.80" font-weight="bold" fill="#1c1c10" stroke="#1c1c10" stroke-width="0.12">do Sul</text>
<text transform="translate(675.2,475.9) scale(1.14,1)" font-size="4.80" font-weight="bold" fill="#1c1c10" stroke="#1c1c10" stroke-width="0.12">Presidente</text>
<text transform="translate(675.2,481.3) scale(1.14,1)" font-size="4.80" font-weight="bold" fill="#1c1c10" stroke="#1c1c10" stroke-width="0.12">Kennedy</text>
<text transform="translate(705.8,470.9) scale(1.14,1)" font-size="4.80" font-weight="bold" fill="#402020" stroke="#402020" stroke-width="0.12">Marataízes</text>
</g>
</svg></body></html>
